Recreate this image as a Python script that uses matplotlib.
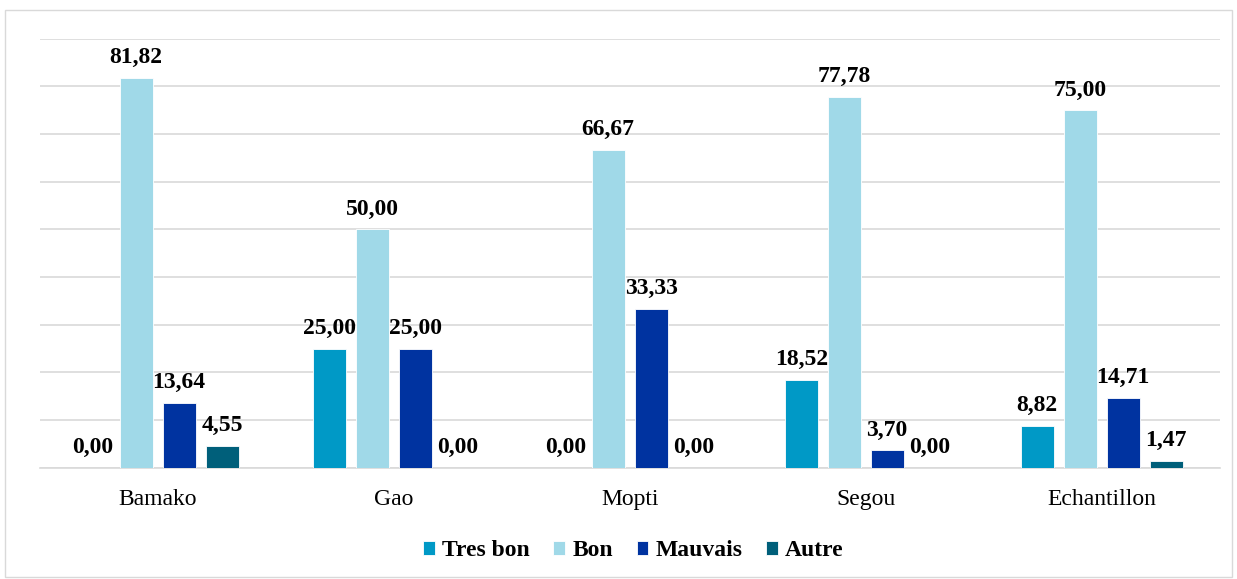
import matplotlib.pyplot as plt
import numpy as np

plt.rcParams['font.family'] = ['Liberation Serif', 'DejaVu Serif']

regions = ['Bamako', 'Gao', 'Mopti', 'Segou', 'Echantillon']
series = ['Tres bon', 'Bon', 'Mauvais', 'Autre']
tres_bon = [0.00, 25.00, 0.00, 18.52, 8.82]
bon = [81.82, 50.00, 66.67, 77.78, 75.00]
mauvais = [13.64, 25.00, 33.33, 3.70, 14.71]
autre = [4.55, 0.00, 0.00, 0.00, 1.47]
colors = ['#0099C6', '#A0D9E8', '#0033A0', '#005F7A']

fig = plt.figure(figsize=(12.37, 5.79), dpi=100)
ax = fig.add_axes([0.032, 0.192, 0.954, 0.741])

x = np.arange(len(regions))
w = 0.14
step = 0.182
for i, (vals, c, name) in enumerate(zip([tres_bon, bon, mauvais, autre], colors, series)):
    pos = x + (i - 1.5) * step
    ax.bar(pos, vals, w, color=c, edgecolor='white', linewidth=0.6, label=name, zorder=3)
    for p, v in zip(pos, vals):
        ax.annotate(('%.2f' % v).replace('.', ','), (p, v), xytext=(0, 7),
                    textcoords='offset points', ha='center', va='bottom',
                    fontsize=17, fontweight='bold')

ax.set_xlim(-0.5, 4.5)
ax.set_ylim(0, 90)
ax.set_yticks(np.arange(0, 91, 10))
ax.yaxis.grid(True, color='#d9d9d9', linewidth=1.2, zorder=0)
ax.tick_params(axis='y', left=False, labelleft=False)
ax.tick_params(axis='x', length=0, labelsize=17, pad=15)
ax.set_xticks(x)
ax.set_xticklabels(regions)
for s in ['top', 'right', 'left']:
    ax.spines[s].set_visible(False)
ax.spines['bottom'].set_color('#d9d9d9')
ax.spines['bottom'].set_linewidth(1.2)

fig.legend(loc='lower center', bbox_to_anchor=(0.512, -0.006), ncol=4, frameon=False,
           prop={'weight': 'bold', 'size': 17}, handlelength=0.5, handleheight=0.5,
           handletextpad=0.3, columnspacing=1.0)

fig.patches.append(plt.Rectangle((0.004, 0.004), 0.992, 0.978, transform=fig.transFigure,
                                 fill=False, edgecolor='#d9d9d9', linewidth=1))

fig.savefig('out.png', dpi=100)
